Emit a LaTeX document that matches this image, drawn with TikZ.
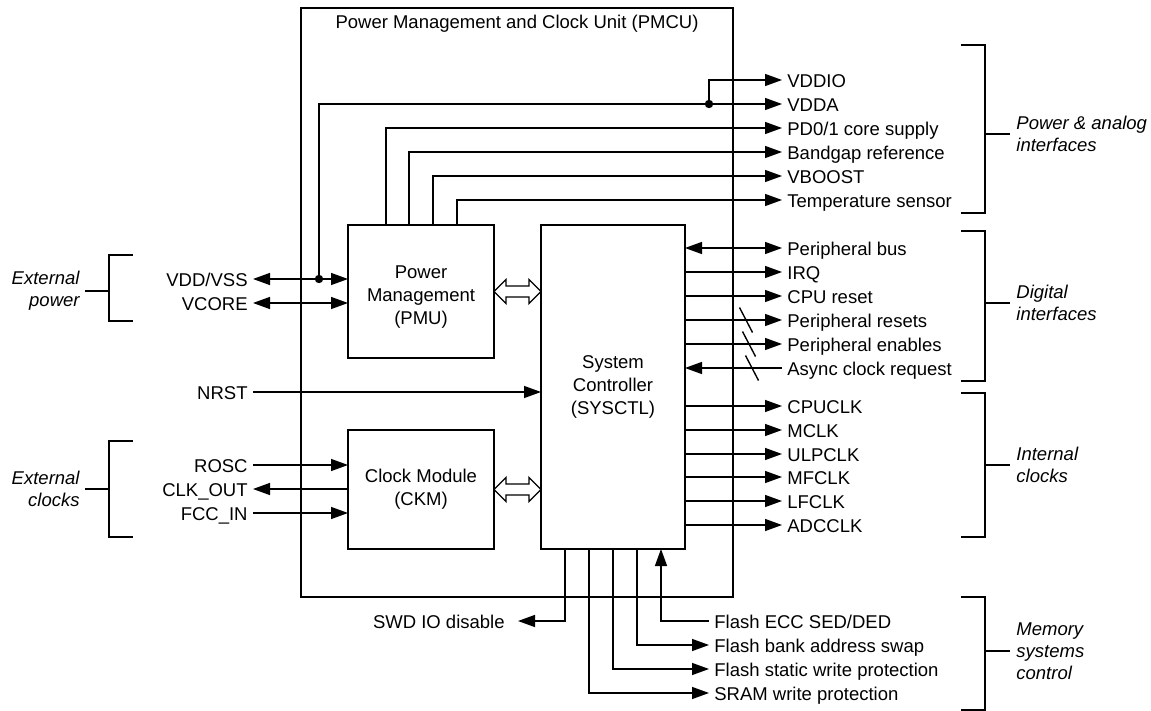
\documentclass[tikz,border=0pt]{standalone}
\usepackage{fontspec}
\setmainfont{Liberation Sans}
\usetikzlibrary{arrows.meta,calc}
\begin{document}
\begin{tikzpicture}[x=0.5pt,y=-0.5pt,
  font=\fontsize{9.25}{11.5}\selectfont,
  box/.style={draw, line width=1.4pt, inner sep=0pt, outer sep=0pt, align=center},
  wire/.style={line width=0.7pt},
  tipA/.tip={Triangle[length=8.5pt,width=6pt]},
  arr/.style={wire, -tipA},
  darr/.style={wire, tipA-tipA},
  lblR/.style={anchor=west, inner xsep=2.5pt, inner ysep=0pt, text height=0.8em, text depth=0.084em},
  lblL/.style={anchor=east, inner xsep=2.5pt, inner ysep=0pt, text height=0.8em, text depth=0.084em},
  grpR/.style={anchor=west, inner xsep=3pt, align=left, font=\fontsize{9.25}{11}\selectfont\itshape},
  grpL/.style={anchor=east, inner xsep=2.5pt, align=right, font=\fontsize{9.25}{11}\selectfont\itshape},
  hollow/.style={wire, fill=white}
]
\useasboundingbox (0,0) rectangle (1151,711);

% main boxes
\node[box, minimum width=216pt, minimum height=294.5pt] (pmcu) at (517,302.5) {};
\node (title) at (517,24) {Power Management and Clock Unit (PMCU)};
\node[box, minimum width=73pt, minimum height=66.5pt,
  label={[name=pmut, align=center, yshift=-2.75pt]center:Power\\Management\\(PMU)}] (pmu) at (421,291.5) {};
\node[box, minimum width=72pt, minimum height=162pt] (sys) at (613,387) {System\\Controller\\(SYSCTL)};
\node[box, minimum width=73pt, minimum height=59.5pt] (ckm) at (421,489.5) {Clock Module\\(CKM)};

% right labels
\node[lblR] (vddio) at (782,80) {VDDIO};
\node[lblR] (vdda) at (782,104) {VDDA};
\node[lblR] (pd) at (782,128) {PD0/1 core supply};
\node[lblR] (bg) at (782,152) {Bandgap reference};
\node[lblR] (vboost) at (782,176) {VBOOST};
\node[lblR] (temp) at (782,200) {Temperature sensor};
\node[lblR] (pbus) at (782,248) {Peripheral bus};
\node[lblR] (irq) at (782,272) {IRQ};
\node[lblR] (cpur) at (782,296) {CPU reset};
\node[lblR] (pres) at (782,320) {Peripheral resets};
\node[lblR] (pen) at (782,344) {Peripheral enables};
\node[lblR] (async) at (782,368) {Async clock request};
\node[lblR] (cpuclk) at (782,406) {CPUCLK};
\node[lblR] (mclk) at (782,430) {MCLK};
\node[lblR] (ulpclk) at (782,454) {ULPCLK};
\node[lblR] (mfclk) at (782,477) {MFCLK};
\node[lblR] (lfclk) at (782,501) {LFCLK};
\node[lblR] (adcclk) at (782,525) {ADCCLK};

% bottom labels
\node[lblR] (ecc) at (709,621) {Flash ECC SED/DED};
\node[lblR] (bank) at (709,645) {Flash bank address swap};
\node[lblR] (static) at (709,669) {Flash static write protection};
\node[lblR] (sram) at (709,693) {SRAM write protection};
\node[lblL, inner xsep=6.5pt] (swd) at (518,621) {SWD IO disable};

% left labels
\node[lblL] (vdd) at (253,279) {VDD/VSS};
\node[lblL] (vcore) at (253,303) {VCORE};
\node[lblL] (nrst) at (253,392) {NRST};
\node[lblL] (rosc) at (253,465) {ROSC};
\node[lblL] (clkout) at (253,489) {CLK\_OUT};
\node[lblL] (fcc) at (253,513) {FCC\_IN};

% junctions
\coordinate (j1) at (319,279);
\coordinate (j2) at (709,104);

% power connectors
\draw[darr] (vdd.east) -- (vdd.east -| pmu.west);
\draw[darr] (vcore.east) -- (vcore.east -| pmu.west);
\draw[arr] (j1) |- (vdda.west);
\draw[arr] (j2) |- (vddio.west);
\fill (j1) circle[radius=2.1pt];
\fill (j2) circle[radius=2.1pt];
\draw[arr] (pmu.north west) ++(38,0) |- (pd.west);
\draw[arr] (pmu.north west) ++(61,0) |- (bg.west);
\draw[arr] (pmu.north west) ++(85,0) |- (vboost.west);
\draw[arr] (pmu.north west) ++(109,0) |- (temp.west);

% clock / reset inputs
\draw[arr] (nrst.east) -- (nrst.east -| sys.west);
\draw[arr] (rosc.east) -- (rosc.east -| ckm.west);
\draw[arr] (clkout.east -| ckm.west) -- (clkout.east);
\draw[arr] (fcc.east) -- (fcc.east -| ckm.west);

% system controller outputs
\draw[darr] (sys.east |- pbus.west) -- (pbus.west);
\draw[arr] (sys.east |- irq.west) -- (irq.west);
\draw[arr] (sys.east |- cpur.west) -- (cpur.west);
\draw[arr] (sys.east |- pres.west) -- (pres.west);
\draw[arr] (sys.east |- pen.west) -- (pen.west);
\draw[arr] (async.west) -- (async.west -| sys.east);
\draw[arr] (sys.east |- cpuclk.west) -- (cpuclk.west);
\draw[arr] (sys.east |- mclk.west) -- (mclk.west);
\draw[arr] (sys.east |- ulpclk.west) -- (ulpclk.west);
\draw[arr] (sys.east |- mfclk.west) -- (mfclk.west);
\draw[arr] (sys.east |- lfclk.west) -- (lfclk.west);
\draw[arr] (sys.east |- adcclk.west) -- (adcclk.west);

% bus slashes
\draw[wire] (sys.east |- pres.west) ++(61,0) ++(-6.5,-12.5) -- ++(13,25);
\draw[wire] (sys.east |- pen.west) ++(64,0) ++(-6.5,-12.5) -- ++(13,25);
\draw[wire] (sys.east |- async.west) ++(67,0) ++(-6.5,-12.5) -- ++(13,25);

% memory control
\draw[arr] (sys.south west) ++(24,0) |- (swd.east);
\draw[arr] (sys.south west) ++(48,0) |- (sram.west);
\draw[arr] (sys.south west) ++(72,0) |- (static.west);
\draw[arr] (sys.south west) ++(96,0) |- (bank.west);
\draw[arr] (ecc.west) -| ($(sys.south west)+(120,0)$);

% hollow double arrows
\draw[hollow] (pmu.east) -- ++(12,-12) -- ++(0,6.5) -- ++(23,0) -- ++(0,-6.5) -- ++(12,12)
  -- ++(-12,12) -- ++(0,-6.5) -- ++(-23,0) -- ++(0,6.5) -- cycle;
\draw[hollow] (ckm.east) -- ++(12,-12) -- ++(0,6.5) -- ++(23,0) -- ++(0,-6.5) -- ++(12,12)
  -- ++(-12,12) -- ++(0,-6.5) -- ++(-23,0) -- ++(0,6.5) -- cycle;

% right group brackets
\node[grpR] (gpa) at (1010,134) {Power \& analog\\interfaces};
\node[grpR] (gdi) at (1010,303) {Digital\\interfaces};
\node[grpR] (gic) at (1010,465) {Internal\\clocks};
\node[grpR] (gms) at (1010,651) {Memory\\systems\\control};
\draw[wire] (961,45) -| (985,213) -- (961,213);
\draw[wire] (985,134) -- (gpa.west);
\draw[wire] (961,231) -| (985,381) -- (961,381);
\draw[wire] (985,303) -- (gdi.west);
\draw[wire] (961,393) -| (985,537) -- (961,537);
\draw[wire] (985,465) -- (gic.west);
\draw[wire] (961,597) -| (985,710) -- (961,710);
\draw[wire] (985,651) -- (gms.west);

% left group brackets
\node[grpL] (gep) at (85,291) {External\\power};
\node[grpL] (gec) at (85,489) {External\\clocks};
\draw[wire] (133,255) -| (109,321) -- (133,321);
\draw[wire] (109,291) -- (gep.east);
\draw[wire] (133,441) -| (109,537) -- (133,537);
\draw[wire] (109,489) -- (gec.east);
\end{tikzpicture}
\end{document}
